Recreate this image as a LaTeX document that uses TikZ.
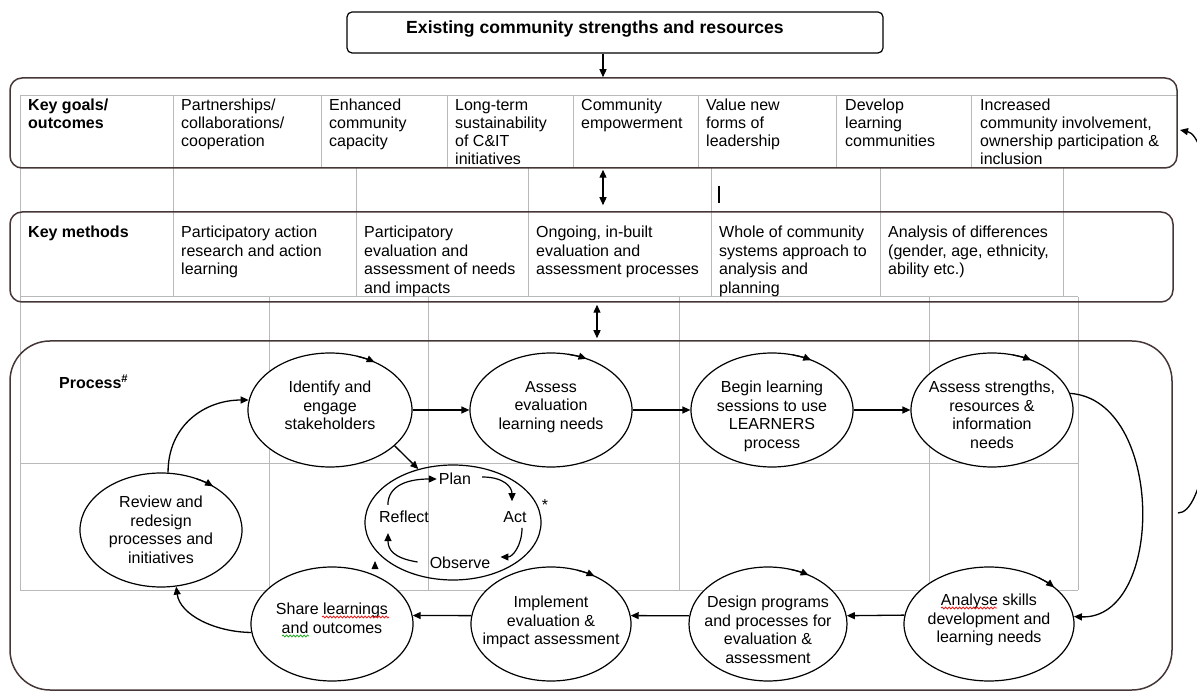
\documentclass[tikz,border=0pt]{standalone}
\usepackage{fontspec}
\setmainfont{Liberation Sans}
\usetikzlibrary{arrows.meta,shapes.geometric,decorations.pathmorphing,calc}
\definecolor{gridgray}{RGB}{185,185,185}
\definecolor{boxline}{RGB}{70,55,55}
\definecolor{spellred}{RGB}{230,30,30}
\definecolor{spellgreen}{RGB}{40,170,40}
\tikzset{wtip/.tip={Triangle[length=8pt,width=7pt]}}
\begin{document}
\begin{tikzpicture}[x=1pt,y=-1pt,
  gridln/.style={draw=gridgray,line width=1pt},
  bigbox/.style={draw=boxline,line width=1.5pt,rounded corners=12pt,inner sep=0pt},
  cell/.style={anchor=north west,inner sep=0pt,align=left,font=\fontsize{16}{18}\selectfont},
  mcell/.style={cell,font=\fontsize{16}{18.6}\selectfont},
  cellhead/.style={cell,font=\fontsize{16}{18}\selectfont\bfseries},
  stage/.style={ellipse,draw=black,line width=1.2pt,fill=white,inner sep=0pt},
  stagetext/.style={inner sep=0pt,align=center,font=\fontsize{16}{18.5}\selectfont},
  flow/.style={draw=black,line width=1.3pt,-wtip},
  dflow/.style={draw=black,line width=1.3pt,wtip-wtip},
  elltip/.style={draw=black,line width=1.2pt,-wtip},
  cyc/.style={draw=black,line width=1.2pt,-wtip},
  word/.style={inner sep=0pt,font=\fontsize{16}{18}\selectfont},
  squig/.style={line width=0.8pt,decorate,decoration={snake,amplitude=1pt,segment length=3.5pt}}
]
\useasboundingbox (0,0) rectangle (1197,692);
\clip (0,0) rectangle (1197,692);

% ---- background table grid ----
\foreach \x in {20,173,321,447,573,698,836,971} \draw[gridln] (\x,96) -- (\x,168);
\draw[gridln] (20,96) -- (1177,96);
\foreach \x in {20,173,356,528,711,880,1063} \draw[gridln] (\x,168) -- (\x,297);
\foreach \x in {20,269,428,679,929,1078} \draw[gridln] (\x,297) -- (\x,590);
\foreach \y in {297,463,590} \draw[gridln] (20,\y) -- (1078,\y);

% ---- boxes ----
\node[draw=black,line width=1.2pt,rounded corners=5pt,minimum width=536pt,minimum height=41pt,inner sep=0pt,
  label={[inner sep=0pt,font=\fontsize{17.6}{20}\selectfont\bfseries,xshift=-20pt,yshift=3.6pt]center:{Existing community strengths and resources}}] (top) at (615,32.5) {};
\node[bigbox,minimum width=1167pt,minimum height=90pt] (goals) at (593.5,123) {};
\node[bigbox,minimum width=1163pt,minimum height=90pt] (methods) at (591.5,257) {};
\node[bigbox,rounded corners=40pt,minimum width=1162pt,minimum height=349pt] (pbox) at (591,515.5) {};

% ---- box connectors ----
\coordinate (ax1) at (603,0);
\coordinate (ax3) at (597,0);
\draw[flow] (top.south -| ax1) -- (goals.north -| ax1);
\draw[dflow,shorten <=1pt,shorten >=6pt] (goals.south -| ax1) -- (methods.north -| ax1);
\draw[dflow,shorten <=2pt,shorten >=2pt] (methods.south -| ax3) -- (pbox.north -| ax3);
\draw[line width=2.2pt] (719,186) -- (719,203);
\coordinate (rstart) at (1178,513);
\coordinate (rend) at (1180,130);
\draw[flow] (rstart) .. controls (1228,513) and (1228,140) .. (rend);

% ---- goals row ----
\node[cellhead] (g0) at (28,99) {Key goals/\\outcomes};
\node[cell] (g1) at (181,99) {Partnerships/\\collaborations/\\cooperation};
\node[cell] (g2) at (329,99) {Enhanced\\community\\capacity};
\node[cell] (g3) at (455,99) {Long-term\\sustainability\\of C\&IT\\initiatives};
\node[cell] (g4) at (581,99) {Community\\empowerment};
\node[cell] (g5) at (706,99) {Value new\\forms of\\leadership};
\node[cell] (g6) at (845,99) {Develop\\learning\\communities};
\node[cell] (g7) at (980,99) {Increased\\community involvement,\\ownership participation \&\\inclusion};

% ---- methods row ----
\node[cellhead] (m0) at (28,226) {Key methods};
\node[mcell] (m1) at (181,226) {Participatory action\\research and action\\learning};
\node[mcell] (m2) at (364,226) {Participatory\\evaluation and\\assessment of needs\\and impacts};
\node[mcell] (m3) at (536,226) {Ongoing, in-built\\evaluation and\\assessment processes};
\node[mcell] (m4) at (719,226) {Whole of community\\systems approach to\\analysis and\\planning};
\node[mcell] (m5) at (888,226) {Analysis of differences\\(gender, age, ethnicity,\\ability etc.)};

% ---- process ----
\node[anchor=west,inner sep=0pt,font=\fontsize{16}{18}\selectfont\bfseries] (proc) at (59,381.5) {Process\textsuperscript{\#}};

\node[stage,minimum width=164pt,minimum height=114pt,label={[stagetext,yshift=4.4pt]center:{Identify and\\engage\\stakeholders}}] (s1) at (330,410) {};
\node[stage,minimum width=162pt,minimum height=114pt,label={[stagetext,yshift=2.9pt]center:{Assess\\evaluation\\learning needs}}] (s2) at (551,410) {};
\node[stage,minimum width=162pt,minimum height=114pt,label={[stagetext,yshift=-6.6pt]center:{Begin learning\\sessions to use\\LEARNERS\\process}}] (s3) at (772,410) {};
\node[stage,minimum width=162pt,minimum height=114pt,label={[stagetext,yshift=-5pt]center:{Assess strengths,\\resources \&\\information\\needs}}] (s4) at (992,410) {};
\node[stage,minimum width=170pt,minimum height=114pt,label={[stagetext,yshift=3.8pt]center:{Analyse skills\\development and\\learning needs}}] (s8) at (989,624) {};
\node[stage,minimum width=158pt,minimum height=114pt,label={[stagetext,yshift=-6pt]center:{Design programs\\and processes for\\evaluation \&\\assessment}}] (s7) at (768,624) {};
\node[stage,minimum width=160pt,minimum height=114pt,label={[stagetext,yshift=1.8pt]center:{Implement\\evaluation \&\\impact assessment}}] (s6) at (551,624) {};
\node[stage,minimum width=162pt,minimum height=114pt,label={[stagetext,yshift=5.7pt]center:{Share learnings\\and outcomes}}] (s5) at (332,624) {};
\node[stage,minimum width=162pt,minimum height=114pt,label={[stagetext]center:{Review and\\redesign\\processes and\\initiatives}}] (s9) at (161,530) {};

\node[ellipse,draw=black,line width=1.2pt,inner sep=0pt,minimum width=176pt,minimum height=115pt] (pdca) at (453,522.5) {};
\node[word] (plan) at (455,479) {Plan};
\node[word] (act) at (515,517) {Act};
\node[word] (observe) at (460,563) {Observe};
\node[word] (reflect) at (404,517) {Reflect};
\node[word,anchor=north] (star) at (545,499) {*};

% ellipse arrowheads
\foreach \n/\a/\rx/\ry in {s1/-57/82/57,s2/-64/81/57,s3/-61/81/57,s4/-61/81/57,s8/-40/85/57,s7/-59/79/57,s6/-57/80/57,s9/-50/81/57}
  \draw[elltip] (\n.center) ++(\a-14:{\rx} and {\ry}) arc[start angle=\a-14,end angle=\a,x radius=\rx,y radius=\ry];
\fill (375,561) -- (371.5,569) -- (378.5,569) -- cycle;

% flow connectors
\draw[flow] (s1.east) -- (s2.west);
\draw[flow] (s2.east) -- (s3.west);
\draw[flow] (s3.east) -- (s4.west);
\draw[flow] (s4.12) .. controls (1165,400) and (1165,620) .. (s8.5);
\draw[flow] (s8.174) -- (s7.6);
\draw[flow] (s7.174) -- (s6.6);
\draw[flow] (s6.174) -- (s5.6);
\draw[flow] (s5.186) .. controls (215,632) and (180,615) .. (s9.-75);
\draw[flow] (s9.83) .. controls (168,425) and (205,400) .. (s1.173);
\draw[flow] (s1.-29) -- (pdca.123);

% cycle
\draw[cyc] ($(reflect.north west)+(9,-6)$) .. controls +(0,-20) and +(-28,0) .. ($(plan.west)+(-2,0)$);
\draw[cyc] ($(plan.east)+(11,-2)$) .. controls +(22,0) and +(0,-14) .. ($(act.north)+(-3,-10)$);
\draw[cyc] ($(act.south)+(7,5)$) .. controls +(0,18) and +(12,0) .. ($(observe.east)+(10,-6)$);
\draw[cyc] ($(observe.west)+(-12,-1)$) .. controls +(-25,-4) and +(0,16) .. ($(reflect.south)+(-16,10)$);

% spell-check squiggles
\draw[spellred,squig] (322,617) -- (389,617);
\draw[spellgreen,squig] (282,636) -- (309,636);
\draw[spellred,squig] (941,608) -- (997,608);
\end{tikzpicture}
\end{document}
